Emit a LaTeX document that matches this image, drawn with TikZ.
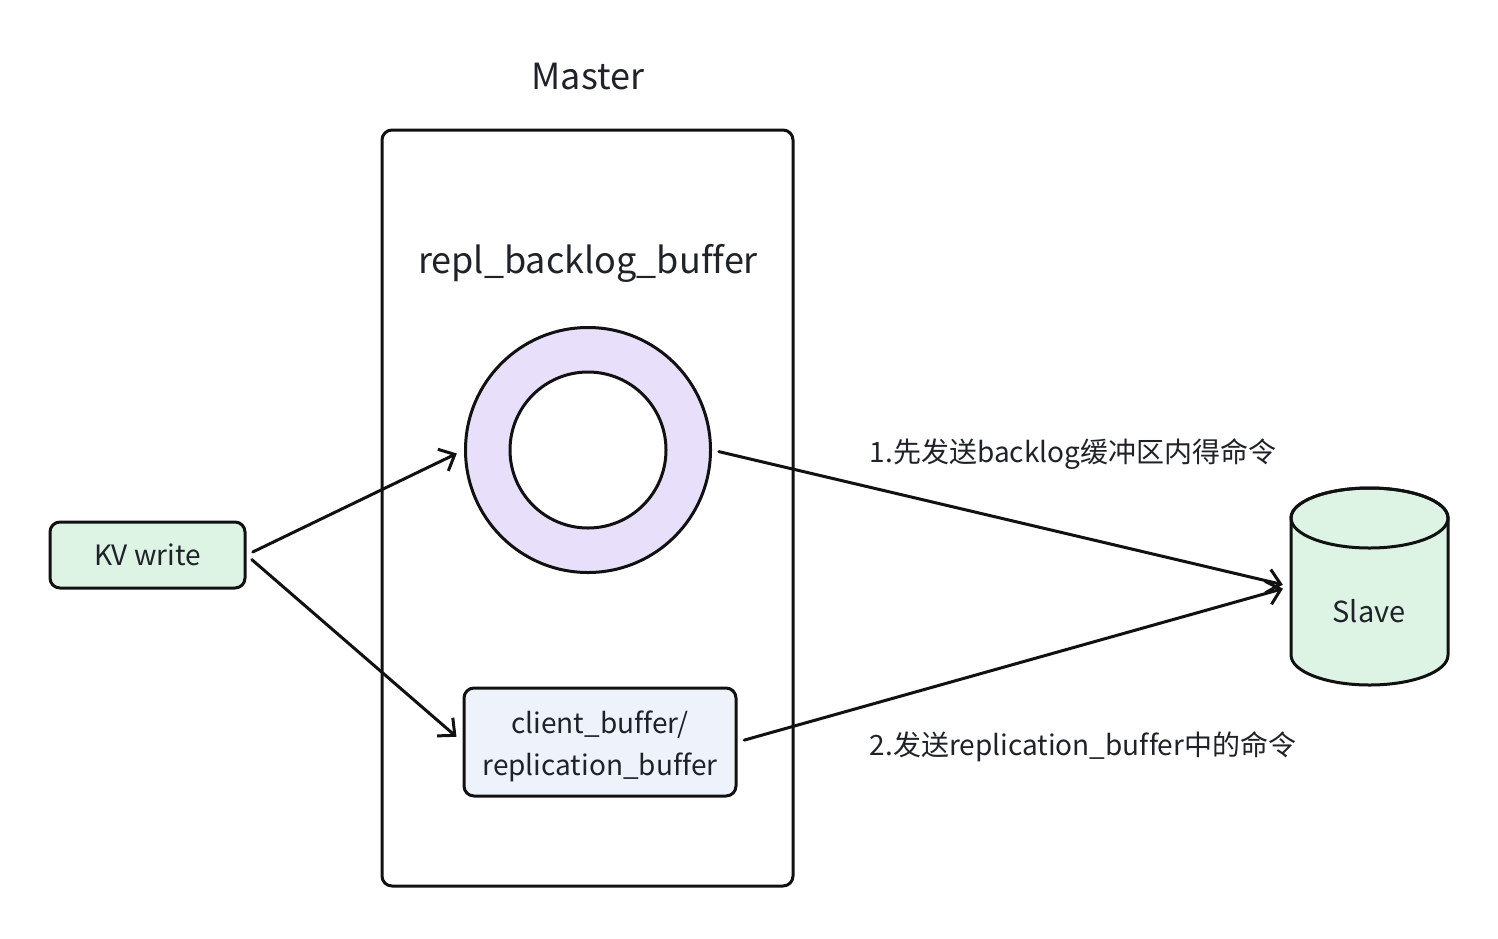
\documentclass[tikz,border=0pt]{standalone}
\usepackage{fontspec}
\setmainfont{Noto Sans CJK SC}[Ligatures=CommonOff]
\usetikzlibrary{arrows.meta}
\definecolor{kvgreen}{RGB}{221,243,228}
\definecolor{ringlilac}{RGB}{232,224,250}
\definecolor{bufblue}{RGB}{238,242,251}
\definecolor{inkline}{RGB}{17,17,17}
\definecolor{inktext}{RGB}{31,35,41}
\begin{document}
\begin{tikzpicture}[x=0.5pt,y=0.5pt,yscale=-1,xscale=1,
  box/.style={draw=inkline,line width=1.5pt,rounded corners=5pt},
  flow/.style={draw=inkline,line width=1.5pt,line cap=round,-{Straight Barb[length=6.5pt,width=12pt]},shorten <=3.5pt,shorten >=4pt},
  lbl/.style={text=inktext,inner sep=0.75pt,font=\fontsize{14}{21}\selectfont}]
\useasboundingbox [fill=white] (0,0) rectangle (1498,938);

%Master container
\node [box,minimum width=205.5pt,minimum height=378pt] (master) at (587.5,508) {};
% Text Node
\node [lbl,font=\fontsize{18}{21}\selectfont] (mastertitle) at (588,77) {Master};
% Text Node
\node [lbl,font=\fontsize{18}{21}\selectfont] (repltitle) at (588,263) {repl\_backlog\_buffer};

%Ring buffer
\node [circle,draw=inkline,line width=1.5pt,fill=ringlilac,minimum size=122.5pt,inner sep=0pt] (ring) at (588,450) {};
\node [circle,draw=inkline,line width=1.5pt,fill=white,minimum size=78pt,inner sep=0pt] (ringhole) at (588,450) {};

%KV write
\node [box,fill=kvgreen,minimum width=97.5pt,minimum height=33pt,lbl,font=\fontsize{14}{17}\selectfont] (kv) at (147.5,555) {KV write};

%client / replication buffer
\node [box,fill=bufblue,minimum width=136pt,minimum height=54pt] (client) at (600,742) {};
% Text Node
\node [lbl,align=center] (clienttxt) at (600,746) {client\_buffer/\\replication\_buffer};

%Slave
\node [minimum width=78.5pt,minimum height=97.5pt,inner sep=0pt] (slave) at (1369.5,586.5) {};
\draw [line width=1.5pt,draw=inkline,fill=kvgreen] (1291,518) -- (1291,655) arc [start angle=180,end angle=0,x radius=78.5,y radius=30] -- (1448,518) arc [start angle=0,end angle=-180,x radius=78.5,y radius=30] -- cycle;
\draw [line width=1.5pt,draw=inkline] (1369.5,518) ellipse [x radius=78.5,y radius=30];
% Text Node
\node [lbl,font=\fontsize{14.5}{17}\selectfont] (slavetxt) at (1369,611) {Slave};

%Straight Lines
\draw [flow] (kv.east) -- (ring.west);
\draw [flow] (kv.east) -- (client.west);
\draw [flow] (ring.east) -- (slave.west);
\draw [flow] (client.east) -- (slave.west);

% Text Node
\node [lbl,anchor=west] (step1) at (868,454) {1.先发送backlog缓冲区内得命令};
% Text Node
\node [lbl,anchor=west] (step2) at (868,747) {2.发送replication\_buffer中的命令};
\end{tikzpicture}
\end{document}
